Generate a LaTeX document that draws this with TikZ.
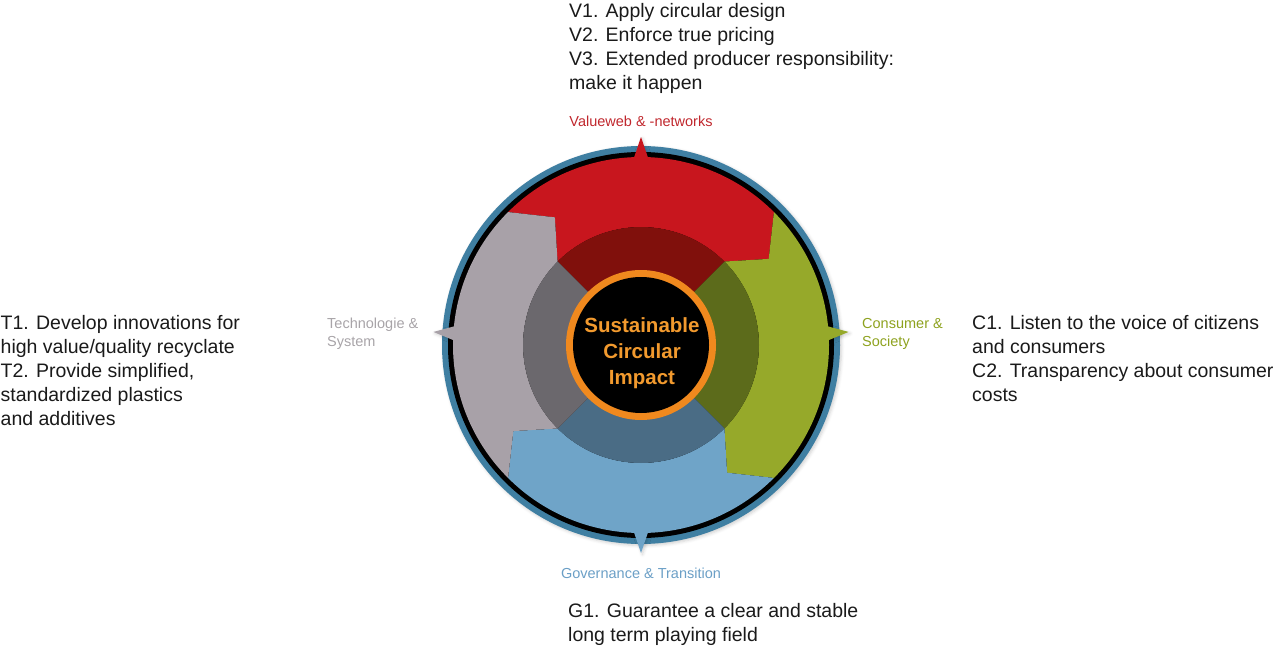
\documentclass[tikz,border=0pt]{standalone}
\usepackage{fontspec}
\setmainfont{Liberation Sans}
\usetikzlibrary{shadows.blur}
\definecolor{cRed}{HTML}{C8161E}
\definecolor{cRedD}{HTML}{80100C}
\definecolor{cGreen}{HTML}{96A92A}
\definecolor{cGreenD}{HTML}{5C6B1B}
\definecolor{cBlue}{HTML}{6FA4C8}
\definecolor{cBlueD}{HTML}{4A6C85}
\definecolor{cGrey}{HTML}{A8A1A8}
\definecolor{cGreyD}{HTML}{6B686D}
\definecolor{cRing}{HTML}{3F7FA2}
\definecolor{cOrange}{HTML}{F0891E}
\definecolor{cOrangeT}{HTML}{F29A2E}
\definecolor{cText}{HTML}{1A1A1A}
\definecolor{lRed}{HTML}{C0272D}
\definecolor{lGreen}{HTML}{8EA21F}
\definecolor{lGrey}{HTML}{A8A4A8}
\definecolor{lBlue}{HTML}{6B9FC6}
\tikzset{
  body/.style={inner sep=0pt, anchor=base west, text=cText, font=\fontsize{19.5}{24}\selectfont},
  lab/.style={inner sep=0pt, font=\fontsize{14.5}{18}\selectfont},
  softshadow/.style={blur shadow={shadow xshift=1.5pt, shadow yshift=-1.5pt, shadow blur radius=3pt, shadow opacity=18}},
}
\begin{document}
\begin{tikzpicture}[x=1pt,y=1pt]
\useasboundingbox (0,-648) rectangle (1280,0);
\begin{scope}[shift={(641,-345)}]
  \fill[cRing, softshadow] (0,0) circle[radius=199];
  \fill[black] (0,0) circle[radius=193];
  % outward arrow tips (drawn first so the segments cover their bases)
  \foreach \t/\col in {90/cRed,3.6/cGreen,270/cBlue,176.4/cGrey}{
    \pgfmathsetmacro\tl{\t+2.8}
    \pgfmathsetmacro\tr{\t-2.8}
    \fill[\col, softshadow] (\tl:182) -- (\t:208) -- (\tr:182) -- cycle;
  }
  % chevron segments
  \def\Ro{188}\def\Ri{118}\def\Rm{154}\def\off{11}
  \foreach \a/\col in {135/cRed,45/cGreen,-45/cBlue,225/cGrey}{
    \pgfmathsetmacro\b{\a-90}
    \pgfmathsetmacro\bt{\b-\off}
    \pgfmathsetmacro\at{\a-\off}
    \fill[\col] (\a:\Ro) arc[start angle=\a, end angle=\b, radius=\Ro]
      -- (\bt:\Rm) -- (\b:\Ri) arc[start angle=\b, end angle=\a, radius=\Ri]
      -- (\at:\Rm) -- cycle;
  }
  % inner darker quadrants
  \foreach \s/\col in {45/cRedD,-45/cGreenD,-135/cBlueD,135/cGreyD}{
    \pgfmathsetmacro\e{\s+90}
    \fill[\col] (0,0) -- (\s:118) arc[start angle=\s, end angle=\e, radius=118] -- cycle;
  }
  \fill[cOrange] (0,0) circle[radius=75];
  \fill[black] (0,0) circle[radius=68];
\end{scope}
% centre text
\begin{scope}[every node/.style={inner sep=0pt, anchor=base, text=cOrangeT, font=\fontsize{20.5}{26}\selectfont\bfseries}]
  \node (s1) at (642,-332.5) {Sustainable};
  \node (s2) at (642,-358.5) {Circular};
  \node (s3) at (642,-384.5) {Impact};
\end{scope}
% segment labels
\node[lab, anchor=base, text=lRed] (lv) at (641,-126) {Valueweb \& -networks};
\node[lab, anchor=base, text=lBlue] (lg) at (641,-578) {Governance \& Transition};
\node[lab, anchor=base west, text=lGrey] (lt1) at (327,-328.7) {Technologie \&};
\node[lab, anchor=base west, text=lGrey] (lt2) at (327,-346.7) {System};
\node[lab, anchor=base west, text=lGreen] (lc1) at (862,-328.7) {Consumer \&};
\node[lab, anchor=base west, text=lGreen] (lc2) at (862,-346.7) {Society};
% text blocks
\node[body] (v1) at (569,-17.5) {V1. Apply circular design};
\node[body] (v2) at (569,-41.5) {V2. Enforce true pricing};
\node[body] (v3) at (569,-65.5) {V3. Extended producer responsibility:};
\node[body] (v4) at (569,-89.5) {make it happen};
\node[body] (t1) at (0.5,-329) {T1. Develop innovations for};
\node[body] (t2) at (0.5,-353) {high value/quality recyclate};
\node[body] (t3) at (0.5,-377) {T2. Provide simplified,};
\node[body] (t4) at (0.5,-401) {standardized plastics};
\node[body] (t5) at (0.5,-425) {and additives};
\node[body] (c1) at (972,-329) {C1. Listen to the voice of citizens};
\node[body] (c2) at (972,-353) {and consumers};
\node[body] (c3) at (972,-377) {C2. Transparency about consumer};
\node[body] (c4) at (972,-401) {costs};
\node[body] (g1) at (568,-617.5) {G1. Guarantee a clear and stable};
\node[body] (g2) at (568,-641.5) {long term playing field};
\end{tikzpicture}
\end{document}
